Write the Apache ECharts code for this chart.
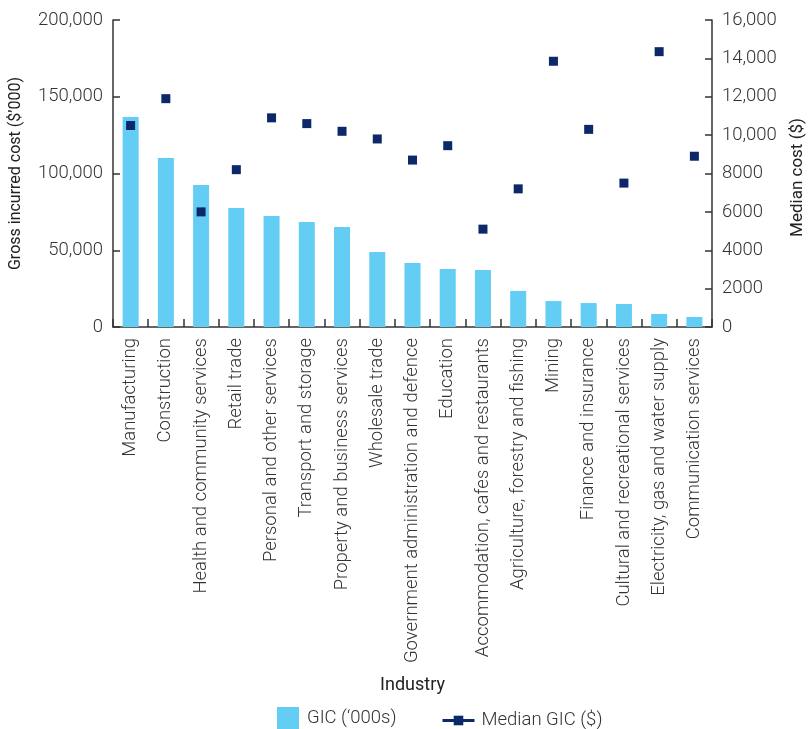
<!DOCTYPE html>
<html>
<head>
<meta charset="utf-8">
<script src="https://cdn.jsdelivr.net/npm/echarts@6/dist/echarts.min.js"></script>
<style>html,body{margin:0;padding:0;background:#fff}#c{width:809px;height:729px}</style>
</head>
<body>
<div id="c"></div>
<script>
const categories = ["Manufacturing","Construction","Health and community services","Retail trade","Personal and other services","Transport and storage","Property and business services","Wholesale trade","Government administration and defence","Education","Accommodation, cafes and restaurants","Agriculture, forestry and fishing","Mining","Finance and insurance","Cultural and recreational services","Electricity, gas and water supply","Communication services"];
const gicValues = [136800,110100,92500,77500,72300,68400,65100,48900,41700,37800,37100,23500,16900,15600,15000,8500,6500];
const medianValues = [10500,11900,6000,8200,10900,10600,10200,9800,8700,9450,5100,7200,13850,10300,7500,14350,8900];
const leftTicks = [0,50000,100000,150000,200000];
const rightTicks = [0,2000,4000,6000,8000,10000,12000,14000,16000];

const FONT = 'Roboto';
const TXT = '#333';
const fmt = v => v >= 10000 ? v.toLocaleString('en-US') : String(v);

const chart = echarts.init(document.getElementById('c'));
chart.setOption({
  animation: false,
  textStyle: {fontFamily: FONT, fontWeight: 300, color: TXT},
  grid: {left: 113, right: 97, top: 20, bottom: 402, containLabel: false, outerBoundsMode: 'none'},
  legend: [
    {data: ['GIC (\u2018000s)'], left: 277, top: 707, padding: 0, itemWidth: 22, itemHeight: 22, itemGap: 0,
     textStyle: {fontFamily: FONT, fontWeight: 300, fontSize: 18.5, color: TXT, padding: [0,0,0,3]}, icon: 'rect'},
    {data: [{name: 'Median GIC ($)', lineStyle: {opacity: 1, width: 3, color: '#0c2869'}}], left: 441, top: 711, padding: 0, itemWidth: 32, itemHeight: 12,
     textStyle: {fontFamily: FONT, fontWeight: 300, fontSize: 18.5, color: TXT, padding: [0,0,0,2]}}
  ],
  xAxis: {
    type: 'category', data: categories,
    name: 'Industry', nameLocation: 'middle', nameGap: 349,
    nameTextStyle: {fontFamily: FONT, fontWeight: 400, fontSize: 18, color: '#222'},
    axisLine: {lineStyle: {color: '#333', width: 1.5}},
    axisTick: {show: true, inside: true, length: 8, lineStyle: {color: '#333', width: 1.5}},
    axisLabel: {rotate: 90, interval: 0, margin: 11, fontFamily: FONT, fontWeight: 300, fontSize: 18.5, color: TXT}
  },
  yAxis: [
    {type: 'value', min: 0, max: 200000, interval: 50000, position: 'left',
     name: 'Gross incurred cost ($\u2019000)', nameLocation: 'middle', nameGap: 89, nameRotate: 90,
     nameTextStyle: {fontFamily: FONT, fontWeight: 400, fontSize: 16, color: '#222'},
     axisLine: {show: true, lineStyle: {color: '#333', width: 1.5}},
     axisTick: {show: true, inside: true, length: 7, lineStyle: {color: '#333', width: 1.5}},
     splitLine: {show: false},
     axisLabel: {margin: 10, fontFamily: FONT, fontWeight: 300, fontSize: 18.5, color: TXT,
       formatter: v => leftTicks.includes(v) ? fmt(v) : ''}},
    {type: 'value', min: 0, max: 16000, interval: 2000, position: 'right',
     name: 'Median cost ($)', nameLocation: 'middle', nameGap: 77, nameRotate: 90,
     nameTextStyle: {fontFamily: FONT, fontWeight: 400, fontSize: 17, color: '#222', padding: [0,8,0,0]},
     axisLine: {show: true, lineStyle: {color: '#333', width: 1.5}},
     axisTick: {show: true, inside: true, length: 7, lineStyle: {color: '#333', width: 1.5}},
     splitLine: {show: false},
     axisLabel: {margin: 10, fontFamily: FONT, fontWeight: 300, fontSize: 18.5, color: TXT,
       formatter: v => rightTicks.includes(v) ? fmt(v) : ''}}
  ],
  series: [
    {name: 'GIC (\u2018000s)', type: 'bar', data: gicValues, barWidth: 16, yAxisIndex: 0,
     itemStyle: {color: '#63cdf4'}},
    {name: 'Median GIC ($)', type: 'line', data: medianValues, yAxisIndex: 1,
     symbol: 'rect', symbolSize: 9, showSymbol: true,
     lineStyle: {opacity: 0, width: 0}, itemStyle: {color: '#0c2869'}, z: 5}
  ]
});
</script>
</body>
</html>
